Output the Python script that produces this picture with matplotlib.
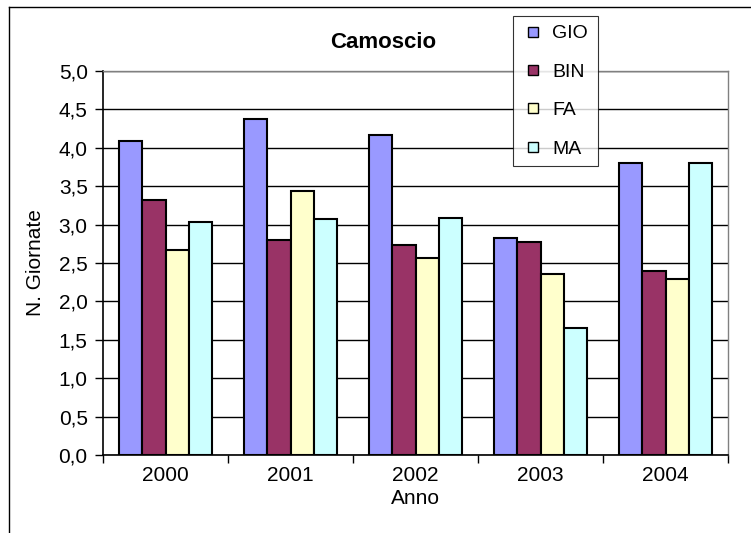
import matplotlib
matplotlib.use("Agg")
import matplotlib.pyplot as plt
from matplotlib.lines import Line2D
import numpy as np

plt.rcParams['font.family'] = ['Liberation Sans', 'DejaVu Sans']

years = ["2000", "2001", "2002", "2003", "2004"]
series_names = ["GIO", "BIN", "FA", "MA"]
gio = [4.09, 4.38, 4.17, 2.82, 3.80]
bin_ = [3.32, 2.80, 2.74, 2.77, 2.40]
fa = [2.67, 3.44, 2.56, 2.36, 2.29]
ma = [3.03, 3.07, 3.08, 1.65, 3.80]
colors = ["#9999FF", "#993366", "#FFFFCC", "#CCFFFF"]
yticks = [0.0, 0.5, 1.0, 1.5, 2.0, 2.5, 3.0, 3.5, 4.0, 4.5, 5.0]

W, H = 751, 533
FS = 15
fig = plt.figure(figsize=(W/100, H/100), dpi=100)

# outer chart frame
fig.add_artist(Line2D([9/W, 9/W], [0, 1 - 7/H], color='black', lw=1, transform=fig.transFigure))
fig.add_artist(Line2D([9/W, 1], [1 - 7/H, 1 - 7/H], color='black', lw=1, transform=fig.transFigure))

left, right, top, bottom = 103, 728, 71, 455
ax = fig.add_axes([left/W, 1 - bottom/H, (right-left)/W, (bottom-top)/H])

data = [gio, bin_, fa, ma]
x = np.arange(len(years))
bw = 0.75 / 4
for i, (vals, c) in enumerate(zip(data, colors)):
    ax.bar(x - 0.375 + bw*(i+0.5), vals, width=bw, color=c, edgecolor='black',
           linewidth=1.5, label=series_names[i], zorder=3)

ax.set_xlim(-0.5, len(years) - 0.5)
ax.set_ylim(0, 5)
ax.set_yticks(yticks)
ax.set_yticklabels([f"{v:.1f}".replace('.', ',') for v in yticks], fontsize=FS)
ax.yaxis.grid(True, color='black', lw=1, zorder=0)
ax.set_axisbelow(True)

ax.set_xticks(x)
ax.set_xticklabels(years, fontsize=FS)
ax.tick_params(axis='x', length=0, pad=8)
ax.set_xticks(np.arange(-0.5, len(years)), minor=True)
ax.tick_params(axis='x', which='minor', length=6, width=1, direction='out')
ax.tick_params(axis='y', length=6, width=1, direction='out', pad=5)

for s in ['top', 'right']:
    ax.spines[s].set_color('#808080')
    ax.spines[s].set_linewidth(1)
for s in ['left', 'bottom']:
    ax.spines[s].set_color('black')
    ax.spines[s].set_linewidth(1.2)

ax.set_xlabel("Anno", fontsize=FS, labelpad=3)
ax.set_ylabel("N. Giornate", fontsize=FS, labelpad=10)

fig.text(383/W, 1 - 42/H, "Camoscio", fontsize=16, fontweight='bold', ha='center', va='center')

handles = [Line2D([], [], marker='s', markersize=6.5, markerfacecolor=c,
                  markeredgecolor='black', markeredgewidth=1, linestyle='none')
           for c in colors]
leg = ax.legend(handles, series_names, loc='upper left',
                bbox_to_anchor=(513/W, 1 - 16/H, 85/W, 0),
                bbox_transform=fig.transFigure, mode='expand',
                fontsize=14, frameon=True, fancybox=False, handlelength=1.2,
                handletextpad=0.36, labelspacing=1.07, borderpad=0.45, borderaxespad=0)
leg.get_frame().set_edgecolor('black')
leg.get_frame().set_linewidth(0.8)
leg.set_zorder(10)

fig.savefig("out.png", dpi=100)
